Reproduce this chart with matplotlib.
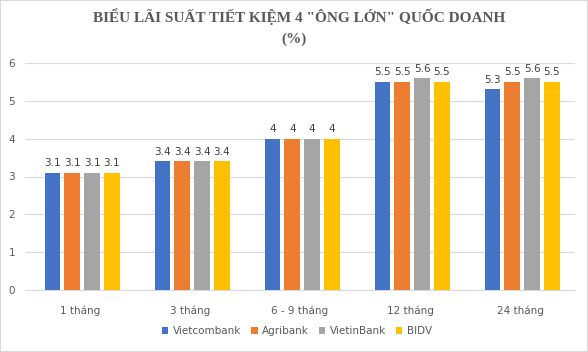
import matplotlib.pyplot as plt
import numpy as np
from matplotlib.patches import Rectangle

categories = ['1 tháng', '3 tháng', '6 - 9 tháng', '12 tháng', '24 tháng']
banks = ['Vietcombank', 'Agribank', 'VietinBank', 'BIDV']
vietcombank = [3.1, 3.4, 4, 5.5, 5.3]
agribank = [3.1, 3.4, 4, 5.5, 5.5]
vietinbank = [3.1, 3.4, 4, 5.6, 5.6]
bidv = [3.1, 3.4, 4, 5.5, 5.5]
series = [vietcombank, agribank, vietinbank, bidv]
colors = ['#4472C4', '#ED7D31', '#A5A5A5', '#FFC000']

fig = plt.figure(figsize=(5.88, 3.52), dpi=100)
ax = fig.add_axes([25 / 588, 62 / 352, 550 / 588, 227 / 352])

x = np.arange(len(categories))
width = 0.145
pitch = 0.18
for i, (vals, c, name) in enumerate(zip(series, colors, banks)):
    pos = x + (i - 1.5) * pitch + 0.02
    bars = ax.bar(pos, vals, width, color=c, label=name, zorder=3)
    for b, v in zip(bars, vals):
        ax.text(b.get_x() + b.get_width() / 2, v + 0.12, f'{v:g}',
                ha='center', va='bottom', fontsize=7.5, color='#404040')

ax.set_xlim(-0.5, len(categories) - 0.5)
ax.set_ylim(0, 6)
ax.set_yticks(range(0, 7))
ax.set_xticks(x)
ax.set_xticklabels(categories)
ax.grid(axis='y', color='#D9D9D9', linewidth=0.8, zorder=0)
for s in ['top', 'right', 'left']:
    ax.spines[s].set_visible(False)
ax.spines['bottom'].set_color('#D9D9D9')
ax.tick_params(axis='both', length=0, labelsize=7.5, colors='#595959')
ax.tick_params(axis='y', pad=7)
ax.tick_params(axis='x', pad=11)

title_kw = dict(ha='center', va='center', fontsize=11, fontweight='bold',
                family='Liberation Serif', color='#595959')
fig.text(0.508, 1 - 17 / 352, 'BIỂU LÃI SUẤT TIẾT KIỆM 4 "ÔNG LỚN" QUỐC DOANH', **title_kw)
fig.text(0.5, 1 - 39 / 352, '(%)', **title_kw)

fig.legend(loc='center', bbox_to_anchor=(0.505, 1 - 331 / 352), ncol=4, frameon=False,
           fontsize=7.5, handlelength=0.6, handleheight=0.6, handletextpad=0.4,
           columnspacing=1.0, labelcolor='#595959')

fig.patches.append(Rectangle((0, 0), 1, 1, transform=fig.transFigure,
                             fill=False, edgecolor='#D9D9D9', linewidth=1.5))

fig.savefig('out.png', dpi=100)
